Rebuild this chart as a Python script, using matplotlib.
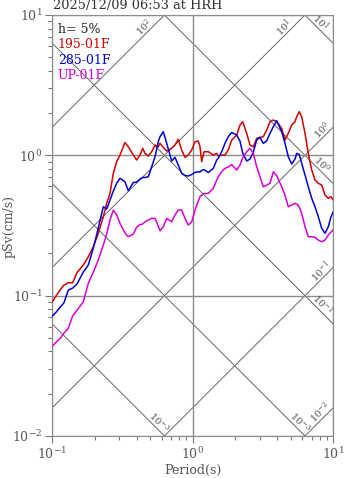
import numpy as np
import matplotlib
matplotlib.use('Agg')
import matplotlib.pyplot as plt

# pseudo velocity response spectra, h = 5 %
periods = [0.100, 0.1062, 0.1135, 0.1211, 0.1300, 0.1397, 0.1499, 0.1662, 0.1804, 0.1958,
           0.2125, 0.2307, 0.2439, 0.2575, 0.2718, 0.2873, 0.3033, 0.3292, 0.3474, 0.3772,
           0.3988, 0.4210, 0.4400, 0.4569, 0.4823, 0.5099, 0.5383, 0.5679, 0.5840, 0.6166,
           0.6520, 0.7074, 0.7468, 0.7885, 0.8337, 0.8799, 0.9290, 0.9822, 1.037, 1.094,
           1.125, 1.157, 1.202, 1.290, 1.399, 1.480, 1.519, 1.606, 1.695, 1.789,
           1.892, 2.053, 2.167, 2.266, 2.419, 2.553, 2.696, 2.850, 3.008, 3.176,
           3.357, 3.545, 3.741, 3.955, 4.293, 4.531, 4.783, 5.057, 5.339, 5.490,
           5.728, 5.958, 6.290, 6.640, 7.020, 7.410, 7.823, 8.272, 8.729, 9.214,
           9.630, 10.0]

psv_195 = [0.0905, 0.0993, 0.1096, 0.1190, 0.1236, 0.1236, 0.1461, 0.1652, 0.1894, 0.2232,
           0.2780, 0.3650, 0.4548, 0.5360, 0.7442, 0.9004, 1.005, 1.234, 1.152, 1.005,
           0.926, 1.005, 1.122, 1.033, 0.989, 1.061, 1.184, 1.152, 1.218, 1.137,
           1.073, 1.122, 1.184, 1.300, 1.091, 0.968, 1.005, 1.091, 1.250, 1.264,
           1.152, 0.900, 1.061, 1.061, 1.005, 1.033, 0.989, 1.005, 1.005, 1.091,
           1.285, 1.395, 1.644, 1.736, 1.435, 1.184, 1.152, 1.322, 1.344, 1.357,
           1.514, 1.736, 1.785, 1.736, 1.557, 1.285, 1.435, 1.644, 1.736, 1.884,
           2.046, 1.884, 1.435, 1.033, 0.786, 0.667, 0.632, 0.614, 0.521, 0.494,
           0.507, 0.480]

psv_285 = [0.0716, 0.0760, 0.0825, 0.0890, 0.1096, 0.1133, 0.1210, 0.1473, 0.1652, 0.2174,
           0.3033, 0.4302, 0.4143, 0.480, 0.5566, 0.632, 0.6857, 0.6484, 0.5594, 0.640,
           0.6452, 0.678, 0.6947, 0.6947, 0.7039, 0.8294, 0.977, 1.250, 1.357, 1.473,
           1.218, 0.911, 0.968, 0.853, 0.744, 0.718, 0.712, 0.730, 0.756, 0.763,
           0.760, 0.782, 0.792, 0.754, 0.808, 0.926, 0.952, 1.061, 1.218, 1.357,
           1.454, 1.395, 1.264, 1.038, 0.911, 0.941, 1.056, 1.285, 1.339, 1.218,
           1.268, 1.435, 1.599, 1.764, 1.473, 1.218, 0.977, 0.867, 0.941, 1.033,
           1.013, 0.877, 0.724, 0.597, 0.494, 0.430, 0.365, 0.302, 0.278, 0.310,
           0.365, 0.396]

psv_up = [0.0437, 0.0464, 0.0495, 0.0541, 0.0585, 0.0719, 0.0786, 0.0905, 0.1224, 0.1471,
          0.1794, 0.2295, 0.2748, 0.3458, 0.4074, 0.3753, 0.3276, 0.2793, 0.2629, 0.2748,
          0.3083, 0.3212, 0.3238, 0.3363, 0.3458, 0.3556, 0.3556, 0.3133, 0.2901, 0.3098,
          0.3556, 0.3363, 0.3753, 0.4074, 0.4074, 0.3556, 0.3187, 0.3346, 0.4074, 0.4722,
          0.507, 0.521, 0.5333, 0.536, 0.5817, 0.667, 0.704, 0.764, 0.808, 0.825,
          0.860, 0.786, 0.853, 0.957, 1.061, 1.122, 1.033, 0.829, 0.704, 0.597,
          0.614, 0.632, 0.764, 0.718, 0.597, 0.521, 0.430, 0.4422, 0.4548, 0.4495,
          0.4281, 0.3861, 0.3098, 0.2629, 0.2629, 0.2603, 0.2490, 0.2422, 0.2490, 0.2703,
          0.2840, 0.2935]

title = '2025/12/09 06:53 at HRH'
damping = 'h= 5%'
series_names = ['195-01F', '285-01F', 'UP-01F']
series_colors = ['#d40000', '#0000d8', '#d800d8']

# tripartite grid: constant pSa (ascending) and constant Sd (descending)
acc_exps = [-3, -2, -1, 0, 1, 2, 3, 4]
disp_exps = [-4, -3, -2, -1, 0, 1, 2]
# (exponent of the line, label text, period where the label sits)
acc_labels = [(2, '$10^{2}$', 0.484), (1, '$10^{1}$', 4.80), (0, '$10^{0}$', 8.87),
              (-1, '$10^{-1}$', 8.73), (-2, '$10^{-2}$', 8.66)]
disp_labels = [(1, '$10^{1}$', 7.60), (0, '$10^{0}$', 7.78), (-1, '$10^{-1}$', 7.78),
               (-3, '$10^{-3}$', 0.538), (-2, '$10^{-3}$', 5.38)]

plt.rcParams['font.family'] = ['DejaVu Serif']
plt.rcParams['mathtext.fontset'] = 'dejavuserif'

GRAY = '#555555'
LINE_GRAY = '#666666'


def main():
    fig = plt.figure(figsize=(3.47, 4.78), dpi=100)
    ax = fig.add_axes([0.1507, 0.0879, 0.8098, 0.8807])
    ax.set_xscale('log')
    ax.set_yscale('log')

    tt = np.array([0.05, 20.0])
    w = 2 * np.pi
    for k in acc_exps:
        ax.plot(tt, 10.0 ** k * tt / w, color=LINE_GRAY, lw=0.7, zorder=1)
    for k in disp_exps:
        ax.plot(tt, w * 10.0 ** k / tt, color=LINE_GRAY, lw=0.7, zorder=1)

    for k, txt, t in acc_labels:
        ax.annotate(txt, xy=(t, 10.0 ** k * t / w), xytext=(-3.0, 3.0),
                    textcoords='offset points', rotation=45, ha='center', va='center',
                    fontsize=7, color=GRAY, zorder=2)
    for k, txt, t in disp_labels:
        ax.annotate(txt, xy=(t, w * 10.0 ** k / t), xytext=(3.0, 3.0),
                    textcoords='offset points', rotation=-45, ha='center', va='center',
                    fontsize=7, color=GRAY, zorder=2)

    for vals, c in zip([psv_195, psv_285, psv_up], series_colors):
        ax.plot(periods, vals, color=c, lw=1.1, zorder=3)

    ax.set_xlim(0.1, 10)
    ax.set_ylim(0.01, 10)
    ax.grid(which='major', color='#8c8c8c', lw=1.0, zorder=0)
    for s in ax.spines.values():
        s.set_color('#8c8c8c')
    ax.tick_params(which='both', direction='out', color='#777777', labelcolor=GRAY,
                   labelsize=9, width=0.8)
    ax.tick_params(which='major', length=5, pad=2)
    ax.tick_params(which='minor', length=3)

    fig.text(53 / 347, 1 - 9 / 478, title, fontsize=9.3, color='#333333', va='baseline')
    ax.text(0.02, 0.966, damping, transform=ax.transAxes, fontsize=9, color='#222222', va='center')
    for i, (name, c) in enumerate(zip(series_names, series_colors)):
        ax.text(0.02, 0.966 - (i + 1) * 0.0365, name, transform=ax.transAxes,
                fontsize=9, color=c, va='center')

    fig.text(193 / 347, 1 - 470 / 478, 'Period(s)', fontsize=9, color=GRAY,
             ha='center', va='center')
    fig.text(9 / 347, 1 - 226 / 478, 'pSv(cm/s)', fontsize=9, color=GRAY,
             ha='center', va='center', rotation=90)

    fig.savefig('out.png', dpi=100)
    plt.close(fig)


if __name__ == '__main__':
    main()
